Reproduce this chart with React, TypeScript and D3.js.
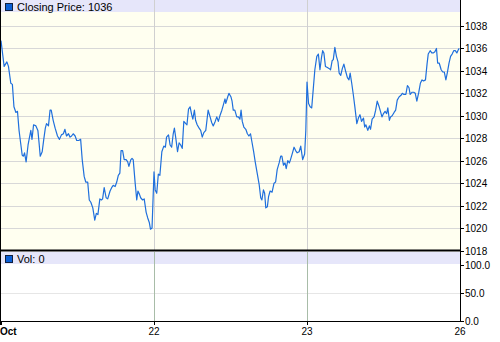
import React from "react";
import * as d3 from "d3";

// Intraday closing prices: [trading minutes since Oct 21 open, price]
const oct21: [number, number][] = [
  [0, 1036.7], [8, 1034.4], [15, 1034.8], [19, 1034.4], [25, 1032.9], [29, 1032.8], [33, 1030.8], [38, 1030.3],
  [42, 1030.4], [46, 1028.7], [50, 1027.6], [54, 1026.5], [57, 1026.4], [60, 1026.7], [64, 1025.9], [69, 1027.4],
  [76, 1028.7], [79, 1027.9], [83, 1029.2], [89, 1029.1], [94, 1028.7], [97, 1027.6], [100, 1026.4], [105, 1026.8],
  [109, 1027.9], [113, 1028.9], [116, 1029.3], [121, 1029.1], [125, 1030.5], [128, 1030.5], [133, 1029.6], [138, 1028.9],
  [144, 1028.2], [149, 1027.9], [154, 1028.3], [159, 1028.4], [163, 1028.8], [167, 1028.2], [172, 1028.4], [176, 1028.1],
  [180, 1028.2], [184, 1028.4], [189, 1028.2], [193, 1027.8], [198, 1027.8], [203, 1027.9], [207, 1026.1], [212, 1024.6],
  [216, 1024.1], [221, 1024.1], [225, 1022.5], [229, 1022.3], [234, 1021.8], [239, 1020.7], [243, 1021.3], [247, 1021.2],
  [252, 1022.6], [256, 1022.5], [259, 1022.6], [263, 1023.6], [268, 1022.7], [272, 1022.6], [278, 1023.3], [282, 1023.6],
  [286, 1023.8], [291, 1023.7], [295, 1024.1], [299, 1024.7], [303, 1024.9], [306, 1026.9], [310, 1026.9], [314, 1026.1],
  [319, 1026.1], [323, 1025.9], [326, 1025.5], [331, 1026.1], [334, 1026.2], [337, 1026.1], [342, 1024.0], [346, 1022.5],
  [349, 1023.3], [353, 1023.0], [356, 1022.7], [361, 1022.5], [365, 1022.6], [370, 1021.4], [374, 1020.9], [378, 1020.5],
  [381, 1019.9], [385, 1020.0],
];

const oct22: [number, number][] = [
  [390, 1025.0], [393, 1023.4], [397, 1023.1], [401, 1024.8], [405, 1024.7], [410, 1026.8], [415, 1027.3], [419, 1027.2],
  [422, 1028.1], [427, 1028.3], [431, 1027.4], [435, 1027.2], [439, 1028.4], [442, 1028.9], [446, 1027.9], [450, 1026.8],
  [454, 1027.6], [458, 1027.4], [462, 1027.1], [466, 1029.5], [471, 1029.3], [474, 1029.2], [478, 1030.6], [482, 1030.8],
  [486, 1030.1], [489, 1029.7], [493, 1030.5], [496, 1029.6], [500, 1029.2], [505, 1028.9], [509, 1028.7], [513, 1028.1],
  [517, 1028.5], [522, 1028.7], [525, 1029.6], [528, 1030.5], [533, 1029.9], [537, 1029.4], [541, 1029.1], [546, 1029.5],
  [550, 1029.9], [554, 1029.5], [558, 1030.0], [563, 1030.5], [567, 1031.0], [571, 1031.5], [573, 1031.1], [578, 1031.7],
  [581, 1032.0], [586, 1031.7], [589, 1031.3], [592, 1030.5], [596, 1030.5], [601, 1029.9], [605, 1029.9], [609, 1029.7],
  [612, 1030.5], [615, 1029.5], [619, 1029.0], [624, 1028.8], [628, 1028.4], [632, 1028.2], [636, 1028.4], [640, 1027.6],
  [644, 1026.8], [648, 1025.9], [653, 1024.9], [658, 1023.9], [662, 1022.7], [665, 1022.5], [669, 1023.4], [672, 1023.1],
  [675, 1021.8], [679, 1021.9], [682, 1022.8], [686, 1023.3], [691, 1023.2], [696, 1024.0], [700, 1024.1], [704, 1025.2],
  [709, 1025.8], [713, 1026.4], [716, 1026.4], [720, 1025.6], [724, 1025.8], [727, 1025.3], [731, 1026.0], [735, 1025.8],
  [738, 1026.1], [743, 1026.7], [747, 1027.2], [751, 1026.9], [755, 1026.7], [760, 1026.8], [764, 1027.3], [769, 1026.1],
  [774, 1026.6], [777, 1028.7],
];

const oct23: [number, number][] = [
  [780, 1033.0], [784, 1031.1], [788, 1030.8], [792, 1030.7], [796, 1032.4], [800, 1034.1], [805, 1035.3], [809, 1035.5],
  [813, 1034.1], [817, 1035.2], [820, 1035.8], [823, 1035.6], [827, 1034.4], [832, 1034.3], [837, 1034.2], [840, 1034.1],
  [844, 1034.9], [847, 1035.0], [851, 1036.1], [855, 1035.3], [859, 1034.8], [862, 1033.8], [866, 1033.6], [870, 1034.2],
  [874, 1034.6], [879, 1033.9], [883, 1033.4], [887, 1033.2], [890, 1033.8], [894, 1032.9], [898, 1031.9], [902, 1030.8],
  [907, 1029.3], [911, 1029.8], [915, 1030.1], [919, 1029.5], [924, 1029.8], [927, 1029.0], [930, 1029.2], [935, 1028.7],
  [939, 1029.1], [942, 1028.8], [946, 1029.7], [951, 1029.9], [955, 1030.5], [959, 1031.3], [964, 1030.8], [968, 1030.3],
  [971, 1029.9], [975, 1030.2], [979, 1030.4], [983, 1030.2], [986, 1030.7], [990, 1029.6], [993, 1029.9], [997, 1030.0],
  [1002, 1030.3], [1006, 1030.5], [1010, 1031.4], [1015, 1031.7], [1019, 1031.8], [1023, 1032.0], [1027, 1031.9], [1032, 1031.9],
  [1036, 1032.7], [1040, 1032.5], [1043, 1031.9], [1048, 1032.1], [1052, 1032.1], [1056, 1032.0], [1060, 1031.3], [1065, 1032.1],
  [1069, 1032.9], [1073, 1033.2], [1077, 1033.1], [1082, 1033.2], [1086, 1034.6], [1089, 1035.5], [1094, 1035.8], [1098, 1035.6],
  [1102, 1035.6], [1106, 1035.7], [1110, 1036.0], [1113, 1034.7], [1117, 1034.7], [1122, 1034.1], [1126, 1033.9], [1130, 1033.9],
  [1134, 1033.2], [1138, 1033.9], [1142, 1034.7], [1146, 1035.3], [1150, 1035.5], [1154, 1035.8], [1158, 1035.8], [1162, 1035.6],
  [1166, 1035.9], [1168, 1036.0],
];

const dayTicks = [0, 390, 780, 1170];
const dayLabels = ["Oct", "22", "23", "26"];
const priceTicks = [1018, 1020, 1022, 1024, 1026, 1028, 1030, 1032, 1034, 1036, 1038];
const volTicks = [0, 50, 100];
const priceTitle = "Closing Price: 1036";
const volTitle = "Vol: 0";

const W = 500;
const H = 342;
const LEFT = 1;
const RIGHT = 460;
const PRICE_TOP = 0;
const PRICE_BOTTOM = 251;
const VOL_TOP = 252;
const VOL_BOTTOM = 321;
const FONT = "'Liberation Sans', Arial, sans-serif";

export default function App() {
  const x = d3.scaleLinear().domain([0, 1170]).range([LEFT, RIGHT]);
  const y = d3.scaleLinear().domain([1018, 1038]).range([250.5, 26]);
  const yv = d3.scaleLinear().domain([0, 100]).range([VOL_BOTTOM, 265]);
  const series = [...oct21, ...oct22, ...oct23];
  const line = d3
    .line<[number, number]>()
    .x((d) => x(d[0]))
    .y((d) => y(d[1]));

  const px = (v: number) => Math.round(v) + 0.5;

  return (
    <svg
      width={W}
      height={H}
      style={{ position: "absolute", left: 0, top: 0, background: "#fff" }}
      fontFamily={FONT}
    >
      {/* price panel background */}
      <rect x={0} y={PRICE_TOP} width={RIGHT} height={PRICE_BOTTOM - PRICE_TOP} fill="#fffff0" />
      {/* price gridlines */}
      {priceTicks.slice(1).map((t) => (
        <line key={"pg" + t} x1={0} x2={RIGHT} y1={px(y(t))} y2={px(y(t))} stroke="#d8d8d8" strokeWidth={1} />
      ))}
      {/* price header band */}
      <rect x={0} y={0} width={RIGHT} height={12} fill="#e6e6fa" />
      {dayTicks.slice(1, 3).map((t) => (
        <line key={"pv" + t} x1={px(x(t))} x2={px(x(t))} y1={0} y2={PRICE_BOTTOM} stroke="#d0d0d0" strokeWidth={1} />
      ))}
      {/* price line */}
      <path d={line(series) || ""} fill="none" stroke="#1f6fdc" strokeWidth={1.2} strokeLinejoin="round" />
      {/* price legend */}
      <rect x={5.5} y={3.5} width={7} height={7} fill="#0a5fd6" stroke="#102040" strokeWidth={1} />
      <text x={17} y={11} fontSize={11} fill="#000">
        {priceTitle}
      </text>

      {/* volume panel */}
      <rect x={0} y={VOL_TOP} width={RIGHT} height={VOL_BOTTOM - VOL_TOP} fill="#ffffff" />
      <rect x={0} y={VOL_TOP} width={RIGHT} height={12} fill="#e6e6fa" />
      <line x1={0} x2={RIGHT} y1={px(yv(50))} y2={px(yv(50))} stroke="#e6e6e6" strokeWidth={1} />
      {dayTicks.slice(1, 3).map((t) => (
        <line key={"vv" + t} x1={px(x(t))} x2={px(x(t))} y1={VOL_TOP} y2={VOL_BOTTOM} stroke="#a8bca8" strokeWidth={1} />
      ))}
      <rect x={5.5} y={255.5} width={7} height={7} fill="#0a5fd6" stroke="#102040" strokeWidth={1} />
      <text x={17} y={263} fontSize={11} fill="#000">
        {volTitle}
      </text>

      {/* panel separator */}
      <line x1={0} x2={RIGHT} y1={250.5} y2={250.5} stroke="#000" strokeWidth={2} />
      {/* left border */}
      <line x1={0.5} x2={0.5} y1={0} y2={VOL_BOTTOM + 4} stroke="#000" strokeWidth={1} />
      {/* bottom axis */}
      <line x1={0} x2={RIGHT + 1} y1={VOL_BOTTOM + 0.5} y2={VOL_BOTTOM + 0.5} stroke="#000" strokeWidth={1} />
      {/* right axis */}
      <line x1={RIGHT + 0.5} x2={RIGHT + 0.5} y1={0} y2={VOL_BOTTOM + 1} stroke="#000" strokeWidth={1} />

      {/* price ticks */}
      {priceTicks.map((t) => (
        <g key={"pt" + t}>
          <line x1={RIGHT} x2={RIGHT + 4} y1={px(y(t))} y2={px(y(t))} stroke="#000" />
          <text x={RIGHT + 5} y={y(t) + 4} fontSize={10} fill="#000">
            {t}
          </text>
        </g>
      ))}
      {/* volume ticks */}
      {volTicks.map((t) => (
        <g key={"vt" + t}>
          <line x1={RIGHT} x2={RIGHT + 4} y1={px(yv(t))} y2={px(yv(t))} stroke="#000" />
          <text x={RIGHT + 5} y={yv(t) + 4} fontSize={10} fill="#000">
            {t.toFixed(1)}
          </text>
        </g>
      ))}

      {/* x axis ticks and labels */}
      {dayTicks.map((t, i) => (
        <g key={"xt" + t}>
          {i < 3 && (
            <line x1={px(x(t))} x2={px(x(t))} y1={VOL_BOTTOM} y2={VOL_BOTTOM + 4} stroke="#000" />
          )}
          <text
            x={i === 0 ? 0 : x(t)}
            y={335}
            fontSize={10}
            fontWeight={i === 0 ? "bold" : "normal"}
            textAnchor={i === 0 ? "start" : "middle"}
            fill="#000"
          >
            {dayLabels[i]}
          </text>
        </g>
      ))}
    </svg>
  );
}
